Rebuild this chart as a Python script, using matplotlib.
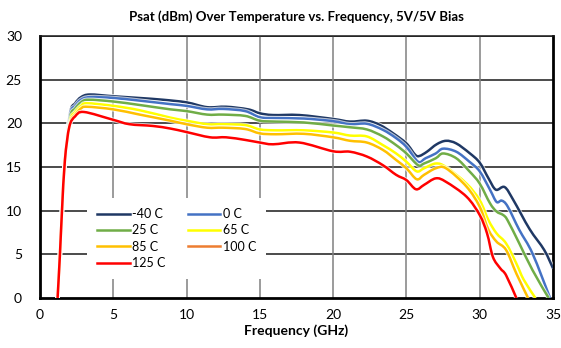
import matplotlib
matplotlib.use("Agg")
import matplotlib.pyplot as plt
import matplotlib.patheffects as pe
from matplotlib.lines import Line2D
from matplotlib.path import Path
from matplotlib.patches import PathPatch

plt.rcParams['font.family'] = ['Lato', 'DejaVu Sans']

title = "Psat (dBm) Over Temperature vs. Frequency, 5V/5V Bias"
xlabel = "Frequency (GHz)"
xticks = [0, 5, 10, 15, 20, 25, 30, 35]
yticks = [0, 5, 10, 15, 20, 25, 30]

labels = ["-40 C", "0 C", "25 C", "65 C", "85 C", "100 C", "125 C"]
colors = ["#1F3864", "#4472C4", "#70AD47", "#FFFF00", "#FFC000", "#ED7D31", "#FF0000"]

f_m40 = [1.2, 1.36, 1.5, 1.7, 2.05, 2.4, 2.8, 3.4, 5, 6.8, 8.4, 10, 11.4, 12.7, 14.2, 15, 15.9, 17.7,
         20, 21.15, 22.3, 23.2, 24.1, 25, 25.6, 25.9, 26.4, 27.06, 27.7, 28.4, 29.3, 30, 30.6, 31.1,
         31.7, 32.3, 33.4, 34.4, 35]
p_m40 = [0, 5, 10, 15.8, 21.2, 22.3, 23.0, 23.3, 23.1, 22.9, 22.7, 22.4, 21.85, 21.9, 21.6, 21.15, 20.95, 20.95,
         20.5, 20.2, 20.3, 19.8, 18.85, 17.7, 16.4, 16.27, 16.75, 17.6, 18.0, 17.7, 16.6, 15.5, 13.7, 12.4,
         12.7, 11.2, 7.9, 5.5, 3.4]

f_0 = [1.2, 1.36, 1.5, 1.7, 2.05, 2.4, 2.8, 3.4, 5, 6.8, 8.9, 10, 11.4, 12.5, 14, 15, 16.1, 18,
       20, 21.15, 22.3, 23.4, 24.3, 25, 25.8, 26.3, 27, 27.5, 28.4, 29.3, 30, 30.7, 31.15, 31.5,
       31.9, 32.7, 33.6, 34.8]
p_0 = [0, 5, 10, 15.8, 21.0, 22.0, 22.7, 23.0, 22.9, 22.6, 22.2, 22.0, 21.6, 21.65, 21.4, 20.7, 20.6, 20.55,
       20.25, 19.9, 19.95, 19.25, 18.3, 17.3, 15.6, 16.0, 16.55, 17.1, 16.75, 15.6, 14.5, 12.4, 11.0, 11.15,
       10.5, 7.8, 5.1, 0]

f_25 = [1.2, 1.36, 1.5, 1.7, 2.05, 2.4, 2.8, 3.3, 5, 6.8, 8.9, 10, 11.4, 12.5, 14, 15, 16.1, 18,
        20, 21.15, 22.3, 23.4, 24.3, 25, 25.8, 26.2, 27, 27.5, 28.4, 29.3, 30, 30.7, 31.15, 31.6,
        31.9, 32.7, 33.6, 34.7]
p_25 = [0, 5, 10, 15.8, 20.7, 21.7, 22.4, 22.7, 22.5, 22.1, 21.6, 21.4, 21.0, 21.0, 20.85, 20.3, 20.2, 20.1,
        19.75, 19.55, 19.3, 18.5, 17.5, 16.55, 15.2, 15.4, 16.0, 16.55, 16.0, 14.5, 13.1, 10.85, 9.9, 9.5,
        8.9, 6.25, 3.2, 0]

f_65 = [1.2, 1.36, 1.5, 1.7, 2.05, 2.4, 2.8, 3.2, 5, 6.8, 8.9, 10, 11.4, 12.5, 14, 15, 16.1, 18,
        20, 21.15, 22.3, 23.4, 24.3, 25, 25.7, 26.2, 27, 27.7, 29.1, 30, 30.6, 31.15, 31.8, 32.5,
        33.0, 33.8]
p_65 = [0, 5, 10, 15.8, 20.3, 21.3, 22.0, 22.3, 22.0, 21.5, 20.65, 20.3, 19.9, 19.9, 19.8, 19.3, 19.2, 19.2,
        18.95, 18.6, 18.5, 17.5, 16.55, 15.6, 14.5, 14.85, 15.4, 15.0, 13.1, 11.2, 8.9, 7.4, 6.25, 3.95,
        2.1, 0]

f_85 = [1.2, 1.36, 1.5, 1.7, 2.05, 2.4, 2.8, 3.2, 5, 6.8, 8.9, 10, 11.4, 12.5, 14, 15, 16.1, 18,
        20, 21.15, 22.3, 23.4, 24.3, 25, 25.7, 26.2, 27, 27.7, 29.1, 30, 30.6, 31.15, 31.8, 32.5,
        33.3]
p_85 = [0, 5, 10, 15.8, 20.0, 21.0, 21.7, 21.9, 21.6, 21.0, 20.3, 19.9, 19.5, 19.5, 19.35, 18.85, 18.75, 18.8,
        18.4, 18.0, 17.8, 16.95, 15.8, 14.85, 13.6, 14.1, 14.85, 14.85, 12.75, 10.45, 7.8, 6.45, 5.5, 2.8,
        0]

f_100 = []
p_100 = []

f_125 = [1.2, 1.36, 1.5, 1.7, 2.0, 2.4, 3.0, 5, 6.1, 7.7, 8.9, 10, 11.6, 12.7, 14, 15, 15.9, 17.7,
         20, 21.15, 22.3, 23.4, 24.3, 25, 25.65, 26.2, 27, 27.7, 29.1, 30, 30.5, 30.9, 31.4, 31.8,
         32.5]
p_125 = [0, 5, 10, 15.8, 19.6, 20.8, 21.3, 20.4, 19.9, 19.7, 19.4, 19.0, 18.4, 18.4, 18.1, 17.8, 17.6, 17.8,
         16.8, 16.75, 16.2, 15.2, 14.1, 13.5, 12.45, 12.95, 13.7, 13.3, 11.6, 9.5, 7.4, 4.7, 3.4, 2.6,
         0]

freqs = [f_m40, f_0, f_25, f_65, f_85, f_100, f_125]
psats = [p_m40, p_0, p_25, p_65, p_85, p_100, p_125]

fig = plt.figure(figsize=(5.61, 3.48), dpi=100)
ax = fig.add_axes([40/561, 50/348, 513/561, 262/348])

ax.set_xlim(0, 35)
ax.set_ylim(0, 30)
ax.set_xticks(xticks)
ax.set_yticks(yticks)
ax.tick_params(length=0, labelsize=10, colors="#000000", pad=8)
ax.tick_params(axis='y', pad=13)

for y in yticks[1:]:
    ax.axhline(y, color="#1a1a1a", lw=1.1, zorder=1)
for x in xticks[1:-1]:
    ax.axvline(x, color="#808080", lw=1.1, zorder=1)

for s in ["left", "bottom", "right"]:
    ax.spines[s].set_linewidth(2.0)
    ax.spines[s].set_color("black")
ax.spines["top"].set_linewidth(1.1)
ax.spines["top"].set_color("#1a1a1a")


def smooth_path(xs, ys):
    """Excel-like smoothed line: Catmull-Rom segments rendered as cubic Beziers."""
    pts = list(zip(xs, ys))
    n = len(pts)
    verts = [pts[0]]
    codes = [Path.MOVETO]
    for i in range(n - 1):
        p0 = pts[i - 1] if i > 0 else pts[i]
        p1 = pts[i]
        p2 = pts[i + 1]
        p3 = pts[i + 2] if i + 2 < n else pts[i + 1]
        c1 = (p1[0] + (p2[0] - p0[0]) / 6.0, p1[1] + (p2[1] - p0[1]) / 6.0)
        c2 = (p2[0] - (p3[0] - p1[0]) / 6.0, p2[1] - (p3[1] - p1[1]) / 6.0)
        verts += [c1, c2, p2]
        codes += [Path.CURVE4] * 3
    return Path(verts, codes)


handles = []
for f, p, c, lab in zip(freqs, psats, colors, labels):
    if len(f) > 1:
        patch = PathPatch(smooth_path(f, p), facecolor="none", edgecolor=c, lw=1.8,
                          joinstyle="round", capstyle="butt", zorder=3, clip_on=True,
                          path_effects=[pe.Stroke(linewidth=3.2, foreground="white", alpha=0.7),
                                        pe.Normal()])
        ax.add_patch(patch)
    handles.append(Line2D([], [], color=c, lw=1.8))

order = [0, 2, 4, 6, 1, 3, 5]
leg = ax.legend([handles[i] for i in order], [labels[i] for i in order], ncol=2,
                loc="upper left", bbox_to_anchor=((87-40)/513, (298-198)/262),
                borderaxespad=0, fontsize=9, frameon=True, fancybox=False,
                facecolor="white", edgecolor="none", framealpha=1,
                handlelength=2.6, handletextpad=0.2, columnspacing=1.8,
                labelspacing=0.35, borderpad=0.8)
leg.set_zorder(5)

ax.set_title(title, fontsize=9.5, fontweight="bold", pad=11)
ax.set_xlabel(xlabel, fontsize=10, fontweight="bold", labelpad=2)

fig.savefig("out.png", dpi=100)
